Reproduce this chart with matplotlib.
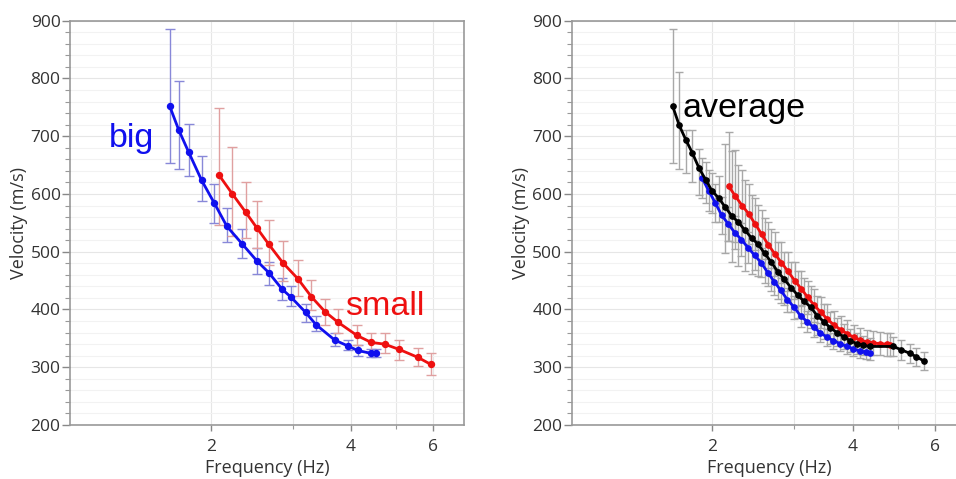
import numpy as np
import matplotlib
matplotlib.use("Agg")
import matplotlib.pyplot as plt
from matplotlib.ticker import FixedLocator, FixedFormatter, NullFormatter

# ---- left panel: big / small sites ----
big_f = [1.634, 1.708, 1.793, 1.912, 2.037, 2.167, 2.340, 2.514, 2.664, 2.847,
         2.978, 3.197, 3.362, 3.692, 3.936, 4.134, 4.42, 4.53]
big_v = [752, 711, 673, 624, 584, 544, 513, 484, 464, 435,
         421, 395, 374, 347, 337, 329, 324, 324]
big_hi = [885, 796, 722, 665, 618, 575, 540, 506, 483, 454,
          440, 410, 388, 360, 347, 339, 331, 331]
big_lo = [653, 643, 631, 587, 550, 517, 489, 462, 442, 417,
          406, 379, 362, 336, 330, 320, 317, 317]

small_f = [2.087, 2.227, 2.380, 2.514, 2.664, 2.856, 3.078, 3.29, 3.52, 3.75,
           4.12, 4.42, 4.72, 5.07, 5.57, 5.93]
small_v = [632, 600, 568, 541, 513, 481, 453, 422, 396, 378,
           355, 343, 340, 331, 317, 305]
small_hi = [749, 681, 621, 587, 555, 519, 486, 451, 419, 400,
            374, 360, 359, 348, 334, 324]
small_lo = [546, 528, 523, 506, 477, 449, 423, 399, 373, 359,
            338, 324, 324, 313, 302, 287]

# ---- right panel: resampled curves + average ----
avg_f = [1.644, 1.698, 1.754, 1.812, 1.872, 1.934, 1.998, 2.064, 2.132, 2.202,
         2.275, 2.350, 2.427, 2.507, 2.590, 2.676, 2.764, 2.855, 2.949, 3.047,
         3.147, 3.251, 3.358, 3.469, 3.584, 3.702, 3.824, 3.950, 4.081, 4.215,
         4.354, 4.89, 5.09, 5.31, 5.48, 5.68]
avg_v = [752, 719, 694, 671, 645, 625, 605, 593, 577, 562,
         551, 537, 524, 513, 497, 482, 465, 452, 438, 425,
         414, 404, 389, 379, 368, 360, 353, 346, 341, 338,
         336, 336, 330, 324, 318, 311]
avg_up = [133, 93, 17, 40, 33, 30, 32, 38, 110, 112,
          100, 88, 75, 68, 62, 57, 52, 48, 45, 42,
          40, 37, 34, 31, 28, 25, 22, 20, 18, 16,
          15, 17, 17, 17, 16, 16]
avg_down = [99, 75, 57, 50, 47, 40, 38, 42, 80, 80,
            75, 70, 62, 55, 52, 50, 47, 45, 42, 40,
            38, 36, 33, 30, 27, 24, 22, 20, 18, 16,
            15, 17, 17, 17, 16, 16]

big2_f = [1.900, 1.963, 2.028, 2.095, 2.164, 2.235, 2.309, 2.385, 2.464, 2.545,
          2.629, 2.716, 2.805, 2.898, 2.994, 3.092, 3.194, 3.300, 3.408, 3.521,
          3.637, 3.757, 3.881, 4.009, 4.141, 4.278, 4.360]
big2_v = [628, 606, 585, 563, 548, 533, 521, 507, 494, 481,
          464, 448, 433, 417, 404, 389, 379, 369, 360, 352,
          346, 341, 336, 332, 328, 326, 324]
big2_err = [35, 35, 33, 32, 30, 29, 28, 27, 26, 25,
            24, 23, 22, 21, 20, 19, 18, 17, 16, 15,
            14, 13, 13, 12, 12, 12, 12]

small2_f = [2.170, 2.242, 2.316, 2.392, 2.471, 2.553, 2.637, 2.724, 2.814, 2.907,
            3.003, 3.102, 3.204, 3.310, 3.419, 3.532, 3.648, 3.769, 3.893, 4.021,
            4.154, 4.291, 4.432, 4.578, 4.729, 4.80]
small2_v = [613, 596, 580, 566, 548, 530, 512, 496, 481, 466,
            450, 436, 421, 407, 395, 383, 373, 365, 358, 352,
            347, 344, 342, 341, 340, 339]
small2_err = [95, 80, 62, 52, 45, 42, 40, 38, 36, 34,
              32, 30, 29, 28, 27, 26, 25, 24, 23, 22,
              21, 20, 20, 20, 20, 20]

tick_font = "Open Sans"
note_font = "Liberation Sans"

fig = plt.figure(figsize=(9.56, 4.79), dpi=100)
ax1 = fig.add_axes([70.3 / 956, 54 / 479, 394 / 956, 404.3 / 479])
ax2 = fig.add_axes([572 / 956, 54 / 479, 394 / 956, 404.3 / 479])


def style_axes(ax):
    ax.set_xscale("log")
    ax.set_xlim(1, 7)
    ax.set_ylim(200, 900)
    ax.xaxis.set_major_locator(FixedLocator([2, 4, 6]))
    ax.xaxis.set_major_formatter(FixedFormatter(["2", "4", "6"]))
    ax.xaxis.set_minor_locator(FixedLocator([3, 5]))
    ax.xaxis.set_minor_formatter(NullFormatter())
    ax.yaxis.set_major_locator(FixedLocator(np.arange(200, 901, 100)))
    ax.yaxis.set_minor_locator(FixedLocator(np.arange(200, 901, 20)))
    ax.grid(True, which="minor", axis="y", color="#f2f2f2", lw=0.8)
    ax.grid(True, which="major", axis="y", color="#e6e6e6", lw=0.8)
    ax.grid(True, which="both", axis="x", color="#e6e6e6", lw=0.8)
    ax.set_axisbelow(True)
    for s in ax.spines.values():
        s.set_color("#999999")
        s.set_linewidth(1.2)
    ax.tick_params(axis="y", which="major", length=6, width=1, color="#888888",
                   pad=1, labelsize=12.5, labelcolor="#333333")
    ax.tick_params(axis="y", which="minor", length=3.6, width=0.8, color="#999999")
    ax.tick_params(axis="x", which="major", length=4, width=1, color="#888888",
                   pad=6, labelsize=12.5, labelcolor="#333333")
    ax.tick_params(axis="x", which="minor", length=3, width=0.8, color="#999999")
    for lab in ax.get_xticklabels() + ax.get_yticklabels():
        lab.set_fontfamily(tick_font)
    ax.set_xlabel("Frequency (Hz)", fontsize=13, family=tick_font,
                  color="#333333", labelpad=3)
    ax.set_ylabel("Velocity (m/s)", fontsize=13, family=tick_font,
                  color="#333333", labelpad=2)


style_axes(ax1)
style_axes(ax2)

# left panel
bv = np.array(big_v)
sv = np.array(small_v)
ax1.errorbar(big_f, bv, yerr=[bv - np.array(big_lo), np.array(big_hi) - bv],
             fmt="none", ecolor="#8888d8", elinewidth=1, capsize=3.3, capthick=1)
ax1.errorbar(small_f, sv, yerr=[sv - np.array(small_lo), np.array(small_hi) - sv],
             fmt="none", ecolor="#e0a0a0", elinewidth=1, capsize=3.3, capthick=1)
ax1.plot(big_f, big_v, "-o", color="#1010ee", lw=2, ms=4.3)
ax1.plot(small_f, small_v, "-o", color="#ee1010", lw=2, ms=4.3)
ax1.text(1.21, 681, "big", color="#1010ee", fontsize=24.5, family=note_font,
         ha="left", va="baseline")
ax1.text(3.89, 390, "small", color="#ee1010", fontsize=24.5, family=note_font,
         ha="left", va="baseline")

# right panel
for f, v, e, cap in [(avg_f, avg_v, [avg_down, avg_up], "#404040"),
                     (small2_f, small2_v, small2_err, "#d06060"),
                     (big2_f, big2_v, big2_err, "#6060d0")]:
    _, caps, _ = ax2.errorbar(f, v, yerr=e, fmt="none", ecolor="#a8a8a8",
                              elinewidth=1, capsize=3, capthick=1)
    for c in caps:
        c.set_color(cap)

ax2.plot(big2_f, big2_v, "-o", color="#1010ee", lw=2, ms=3.8)
ax2.plot(small2_f, small2_v, "-o", color="#ee1010", lw=2, ms=3.8)
ax2.plot(avg_f, avg_v, "-o", color="black", lw=2, ms=3.8)
ax2.text(1.726, 733, "average", color="black", fontsize=24.5, family=note_font,
         ha="left", va="baseline")

fig.savefig("out.png", dpi=100)
